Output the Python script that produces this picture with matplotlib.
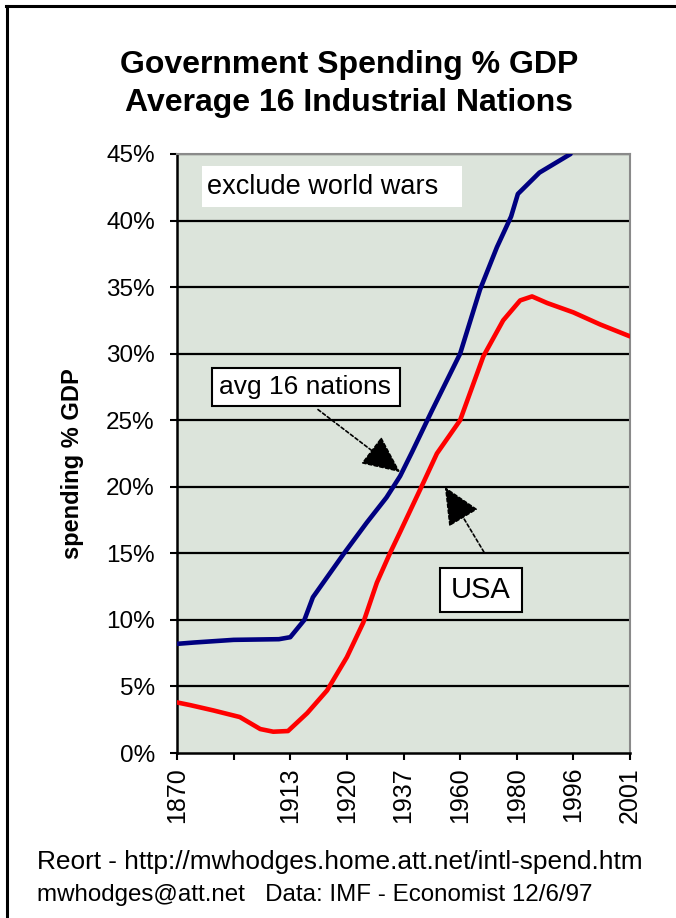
import matplotlib
matplotlib.use("Agg")
import matplotlib.pyplot as plt
from matplotlib.patches import Rectangle
from matplotlib.lines import Line2D

plt.rcParams['font.family'] = ['Liberation Sans', 'DejaVu Sans']

# Category axis labels (one unlabeled category between 1870 and 1913)
categories = ["1870", "", "1913", "1920", "1937", "1960", "1980", "1996", "2001"]

# Series sampled along the category axis (fractional category positions)
avg16_pos = [0, 0.3, 1.0, 1.8, 2.0, 2.25, 2.4, 2.95, 3.35, 3.7, 3.94, 4.15, 4.5,
             5.0, 5.35, 5.65, 5.9, 6.02, 6.4, 6.95]
avg16_val = [8.2, 8.3, 8.5, 8.55, 8.7, 10.0, 11.7, 15.0, 17.3, 19.2, 20.8, 22.6,
             25.7, 30.0, 34.8, 38.0, 40.3, 42.0, 43.6, 45.0]

usa_pos = [0, 0.23, 0.64, 1.11, 1.47, 1.7, 1.96, 2.3, 2.65, 3.0, 3.29, 3.53, 3.76,
           3.94, 4.35, 4.59, 5.0, 5.41, 5.76, 6.06, 6.27, 6.54, 7.0, 7.47, 8.0]
usa_val = [3.8, 3.6, 3.2, 2.7, 1.8, 1.6, 1.65, 3.0, 4.7, 7.2, 9.8, 12.8, 15.0,
           16.6, 20.3, 22.5, 25.0, 29.8, 32.5, 34.0, 34.3, 33.8, 33.1, 32.2, 31.3]

yticks = [0, 5, 10, 15, 20, 25, 30, 35, 40, 45]

W, H = 676, 918
fig = plt.figure(figsize=(W / 100, H / 100), dpi=100)
fig.patch.set_facecolor("white")

# outer frame (top and left visible)
fig.add_artist(Line2D([6 / W, 1], [1 - 6 / H, 1 - 6 / H], color="black", lw=2.2,
                      transform=fig.transFigure))
fig.add_artist(Line2D([7 / W, 7 / W], [0, 1 - 6 / H], color="black", lw=2.2,
                      transform=fig.transFigure))

ax = fig.add_axes([177 / W, 1 - 753 / H, (630 - 177) / W, (753 - 154) / H])
ax.set_facecolor("#DCE4DB")

for v in yticks[1:]:
    ax.axhline(v, color="black", lw=1.6, zorder=1)

ax.plot(avg16_pos, avg16_val, color="#000080", lw=3.3, zorder=4,
        solid_joinstyle="round", solid_capstyle="round")
ax.plot(usa_pos, usa_val, color="#FF0000", lw=3.3, zorder=4,
        solid_joinstyle="round", solid_capstyle="round")

ax.set_xlim(0, len(categories) - 1)
ax.set_ylim(0, 45)
ax.set_xticks(range(len(categories)))
ax.set_xticklabels(categories, rotation=90, fontsize=18)
ax.set_yticks(yticks)
ax.set_yticklabels([f"{v}%" for v in yticks], fontsize=17.5)
ax.tick_params(axis="x", direction="out", length=5, width=1.5, pad=5, color="black")
ax.tick_params(axis="y", direction="out", length=5, width=1.5, pad=11, color="black")

for s in ["left", "bottom"]:
    ax.spines[s].set_color("black")
    ax.spines[s].set_linewidth(1.8)
for s in ["top", "right"]:
    ax.spines[s].set_color("#8a8a8a")
    ax.spines[s].set_linewidth(1.5)

# annotation boxes
ax.add_patch(Rectangle((0.44, 41.0), 4.6, 3.1, facecolor="white", edgecolor="none", zorder=3))
ax.text(0.53, 42.55, "exclude world wars", fontsize=19.5, ha="left", va="center", zorder=5)

ax.add_patch(Rectangle((0.62, 26.07), 3.32, 2.86, facecolor="white", edgecolor="black",
                       lw=1.5, zorder=3))
ax.text(2.26, 27.5, "avg 16 nations", fontsize=19, ha="center", va="center", zorder=5)

ax.add_patch(Rectangle((4.65, 10.6), 1.45, 3.3, facecolor="white", edgecolor="black",
                       lw=1.5, zorder=3))
ax.text(5.37, 12.25, "USA", fontsize=21, ha="center", va="center", zorder=5)

arrow_kw = dict(arrowstyle="-|>,head_length=1.2,head_width=0.55", color="black",
                lw=1.2, linestyle=(0, (2, 1.5)), mutation_scale=20, shrinkA=0, shrinkB=0)
ax.annotate("", xy=(3.94, 21.1), xytext=(2.49, 25.8), arrowprops=arrow_kw, zorder=6)
ax.annotate("", xy=(4.73, 20.0), xytext=(5.42, 15.1), arrowprops=arrow_kw, zorder=6)

# titles and texts
fig.text(349 / W, 1 - 65 / H, "Government Spending % GDP", fontsize=23, fontweight="bold",
         ha="center", va="center")
fig.text(349 / W, 1 - 103 / H, "Average 16 Industrial Nations", fontsize=23,
         fontweight="bold", ha="center", va="center")
fig.text(72 / W, 1 - 464 / H, "spending % GDP", fontsize=17, fontweight="bold",
         rotation=90, ha="center", va="center")
fig.text(37 / W, 1 - 869 / H, "Reort - http://mwhodges.home.att.net/intl-spend.htm",
         fontsize=18.9, ha="left", va="baseline")
fig.text(37 / W, 1 - 901 / H, "mwhodges@att.net   Data: IMF - Economist 12/6/97",
         fontsize=17.4, ha="left", va="baseline")

fig.savefig("out.png", dpi=100, facecolor="white")
